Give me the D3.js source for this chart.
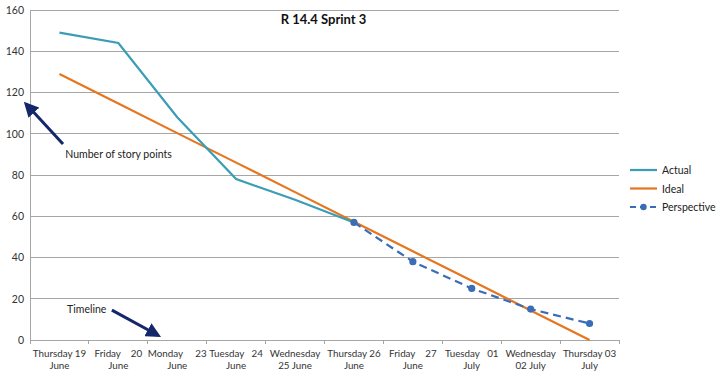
<!DOCTYPE html>
<html><head><meta charset="utf-8">
<script src="https://cdn.jsdelivr.net/npm/d3@7"></script>
<style>
html,body{margin:0;padding:0;background:#fff;}
svg{display:block;font-family:Lato,"Open Sans",sans-serif;}
.xl{white-space:pre;}
</style></head>
<body>
<svg id="c" width="720" height="377"></svg>
<script>
const categories = [
  ["Thursday 19","June"],
  ["Friday    20","June"],
  ["Monday     23","June"],
  ["Tuesday   24","June"],
  ["Wednesday","25 June"],
  ["Thursday 26","June"],
  ["Friday    27","June"],
  ["Tuesday   01","July"],
  ["Wednesday","02 July"],
  ["Thursday 03","July"]
];
const actual = [149, 144, 108, 78, 68, 57, null, null, null, null];
const ideal = [129, 114.7, 100.3, 86, 71.7, 57.3, 43, 28.7, 14.3, 0];
const perspective = [null, null, null, null, null, 57, 38, 25, 15, 8];
const yTicks = [0, 20, 40, 60, 80, 100, 120, 140, 160];
const seriesNames = ["Actual", "Ideal", "Perspective"];
const title = "R 14.4 Sprint 3";

const colors = {Actual:"#3b9db5", Ideal:"#e5761f", Perspective:"#3a6db5"};
const svg = d3.select("#c");
const m = {l:30, r:101, t:10, b:37};
const W = 720, H = 377;
const x = d3.scaleBand().domain(d3.range(categories.length)).range([m.l, W - m.r]);
const y = d3.scaleLinear().domain([0,160]).range([H - m.b, m.t]);
const cx = i => x(i) + x.bandwidth()/2;

// gridlines
svg.append("g").selectAll("line").data(yTicks).join("line")
  .attr("x1", m.l).attr("x2", W - m.r)
  .attr("y1", d => y(d)).attr("y2", d => y(d))
  .attr("stroke", "#a6a6a6").attr("stroke-width", 1).attr("shape-rendering","crispEdges");

// y axis
const ya = svg.append("g").attr("transform", `translate(${m.l},0)`)
  .call(d3.axisLeft(y).tickValues(yTicks).tickSize(0).tickPadding(6));
ya.select(".domain").attr("stroke", "#a6a6a6").attr("shape-rendering","crispEdges");
ya.selectAll("text").attr("font-size", 10.5).attr("fill", "#333").attr("font-family","Lato,sans-serif");

// x axis
const xa = svg.append("g").attr("transform", `translate(0,${y(0)})`);
const bounds = d3.range(categories.length + 1).map(i => m.l + i * x.bandwidth());
xa.selectAll("line.t").data(bounds).join("line").attr("class","t")
  .attr("x1", d => d).attr("x2", d => d).attr("y1", 0).attr("y2", 4)
  .attr("stroke", "#a6a6a6").attr("shape-rendering","crispEdges");
const lab = xa.selectAll("text").data(categories).join("text")
  .attr("class","xl").attr("text-anchor","middle").attr("font-size", 9.8).attr("fill","#333");
lab.append("tspan").attr("x", (d,i) => cx(i)).attr("y", 17).text(d => d[0]);
lab.append("tspan").attr("x", (d,i) => cx(i)).attr("y", 29).text(d => d[1]);

// lines
const line = d3.line().defined(d => d.v != null).x(d => cx(d.i)).y(d => y(d.v));
const toPts = arr => arr.map((v,i) => ({i, v}));
svg.append("path").datum(toPts(ideal)).attr("d", line)
  .attr("fill","none").attr("stroke", colors.Ideal).attr("stroke-width", 2.2);
svg.append("path").datum(toPts(actual)).attr("d", line)
  .attr("fill","none").attr("stroke", colors.Actual).attr("stroke-width", 2.2);
svg.append("path").datum(toPts(perspective)).attr("d", line)
  .attr("fill","none").attr("stroke", colors.Perspective).attr("stroke-width", 2.2)
  .attr("stroke-dasharray","8,5");
svg.append("g").selectAll("circle").data(toPts(perspective).filter(d => d.v != null)).join("circle")
  .attr("cx", d => cx(d.i)).attr("cy", d => y(d.v)).attr("r", 3.6).attr("fill", colors.Perspective);

// title
svg.append("text").attr("x", (m.l + W - m.r)/2 - 1).attr("y", 24).attr("text-anchor","middle")
  .attr("font-size", 13).attr("font-weight","bold").attr("fill","#111").text(title);

// legend
const lg = svg.append("g");
seriesNames.forEach((n, k) => {
  const ly = 170 + k * 18.5;
  lg.append("line").attr("x1", 630).attr("x2", 657).attr("y1", ly).attr("y2", ly)
    .attr("stroke", colors[n]).attr("stroke-width", 2.2)
    .attr("stroke-dasharray", n === "Perspective" ? "6,4" : null);
  if (n === "Perspective") lg.append("circle").attr("cx", 643.5).attr("cy", ly).attr("r", 3.2).attr("fill", colors[n]);
  lg.append("text").attr("x", 662).attr("y", ly + 4).attr("font-size", 10.5).attr("fill","#222").text(n);
});

// annotations (positioned in data coordinates)
const navy = "#14276b";
const defs = svg.append("defs");
defs.append("marker").attr("id","ah").attr("viewBox","0 0 10 10").attr("refX",8).attr("refY",5)
  .attr("markerWidth",5).attr("markerHeight",5).attr("orient","auto")
  .append("path").attr("d","M0,0L10,5L0,10Z").attr("fill", navy);
const xi = d3.scaleLinear().domain([-0.5, categories.length - 0.5]).range([m.l, W - m.r]);
svg.append("line").attr("x1", xi(0.06)).attr("y1", y(95)).attr("x2", xi(-0.57)).attr("y2", y(114.5))
  .attr("stroke", navy).attr("stroke-width", 3).attr("marker-end","url(#ah)");
svg.append("text").attr("x", xi(0.1)).attr("y", y(88.2)).attr("font-size", 10.5).attr("fill","#222")
  .text("Number of story points");
svg.append("text").attr("x", xi(0.13)).attr("y", y(13.1)).attr("font-size", 10.5).attr("fill","#222")
  .text("Timeline");
svg.append("line").attr("x1", xi(0.89)).attr("y1", y(14.5)).attr("x2", xi(1.68)).attr("y2", y(2.2))
  .attr("stroke", navy).attr("stroke-width", 3).attr("marker-end","url(#ah)");
</script>
</body></html>
